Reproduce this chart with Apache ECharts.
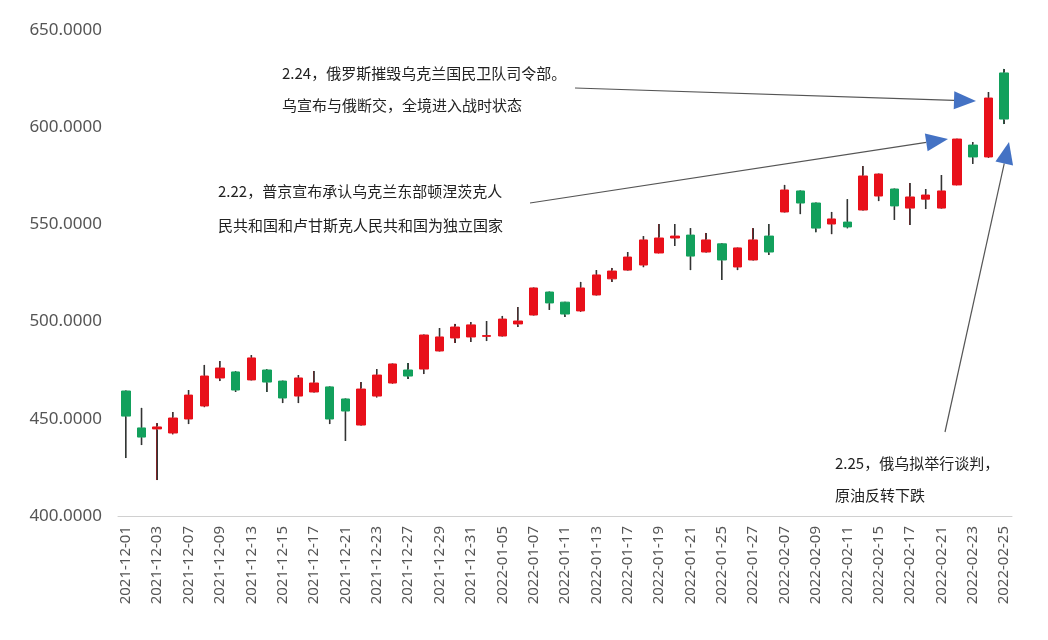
<!DOCTYPE html>
<html>
<head>
<meta charset="utf-8">
<script src="https://cdn.jsdelivr.net/npm/echarts@6/dist/echarts.min.js"></script>
<style>html,body{margin:0;background:#fff}#c{width:1048px;height:640px}</style>
</head>
<body>
<div id="c"></div>
<script>
var dates = [
  '2021-12-01','2021-12-02','2021-12-03','2021-12-06','2021-12-07','2021-12-08','2021-12-09','2021-12-10',
  '2021-12-13','2021-12-14','2021-12-15','2021-12-16','2021-12-17','2021-12-20','2021-12-21','2021-12-22',
  '2021-12-23','2021-12-24','2021-12-27','2021-12-28','2021-12-29','2021-12-30','2021-12-31','2022-01-04',
  '2022-01-05','2022-01-06','2022-01-07','2022-01-10','2022-01-11','2022-01-12','2022-01-13','2022-01-14',
  '2022-01-17','2022-01-18','2022-01-19','2022-01-20','2022-01-21','2022-01-24','2022-01-25','2022-01-26',
  '2022-01-27','2022-01-28','2022-02-07','2022-02-08','2022-02-09','2022-02-10','2022-02-11','2022-02-14',
  '2022-02-15','2022-02-16','2022-02-17','2022-02-18','2022-02-21','2022-02-22','2022-02-23','2022-02-24',
  '2022-02-25'
];
// open, close, low, high
var opens  = [464.3,445.3,444.8,442.7,449.9,456.6,471.0,474.1,470.0,475.1,469.4,461.7,463.8,466.4,460.2,446.8,
  461.7,468.4,475.1,475.6,484.9,491.6,492.1,492.4,492.6,498.8,503.4,515.2,510.0,505.5,513.7,522.0,
  526.5,529.1,535.3,543.0,544.5,535.8,540.0,528.1,531.7,544.0,556.4,567.2,561.0,550.2,551.2,557.4,
  564.6,568.2,558.4,563.0,558.4,570.3,590.8,584.7,627.9];
var closes = [451.4,440.6,445.8,450.4,462.2,472.0,476.1,464.8,481.3,468.9,460.7,471.0,468.4,449.9,454.0,465.3,
  472.5,478.2,472.0,493.1,492.1,497.2,498.3,492.8,501.3,500.3,517.3,509.6,503.9,517.3,524.0,526.0,
  533.2,542.0,543.0,544.0,533.7,542.0,531.7,537.9,542.0,535.8,567.7,561.0,548.1,552.8,548.7,574.9,
  575.9,559.5,564.1,565.1,567.2,593.9,584.7,615.0,604.2];
var lows   = [429.8,436.5,418.5,442.0,447.3,456.0,469.4,463.8,470.0,463.8,458.1,458.1,463.8,447.3,438.6,446.8,
  461.0,468.0,470.5,473.0,484.9,489.0,489.5,490.0,492.6,497.2,503.4,506.0,502.4,505.0,513.7,520.4,
  526.5,528.0,535.0,538.9,526.5,535.8,521.4,526.5,531.7,534.3,556.4,555.3,546.0,545.0,548.0,557.4,
  562.0,552.3,549.7,557.9,558.4,570.0,581.1,584.2,601.6];
var highs  = [464.3,455.6,447.8,453.5,464.8,477.7,479.7,474.6,482.8,475.6,469.4,472.5,474.6,466.4,460.2,468.9,
  475.6,478.2,478.7,493.1,496.7,498.8,499.8,500.3,502.9,507.5,517.3,515.2,510.0,520.4,526.5,527.6,
  535.8,544.0,550.2,550.2,548.1,545.6,540.0,538.0,548.1,550.2,570.3,567.2,561.0,556.4,563.0,580.0,
  575.9,568.2,571.3,568.2,575.4,594.0,592.4,618.1,630.0];
var yTicks = [400, 450, 500, 550, 600, 650];

var kdata = [];
for (var i = 0; i < dates.length; i++) {
  kdata.push([opens[i], closes[i], lows[i], highs[i]]);
}

var chart = echarts.init(document.getElementById('c'));
var txt = {fill: '#222', font: '15px "Noto Sans CJK SC", sans-serif'};
var blue = '#4472c4';

function arrow(x1, y1, x2, y2) {
  var a = Math.atan2(y2 - y1, x2 - x1), L = 22, W = 9;
  var bx = x2 - L * Math.cos(a), by = y2 - L * Math.sin(a);
  return [
    {type: 'line', shape: {x1: x1, y1: y1, x2: bx, y2: by}, style: {stroke: '#555', lineWidth: 1.2}},
    {type: 'polygon', shape: {points: [[x2, y2],
      [bx + W * Math.sin(a), by - W * Math.cos(a)],
      [bx - W * Math.sin(a), by + W * Math.cos(a)]]}, style: {fill: blue}}
  ];
}

var graphics = [
  {type: 'text', left: 282, top: 66, style: Object.assign({text: '2.24，俄罗斯摧毁乌克兰国民卫队司令部。'}, txt)},
  {type: 'text', left: 282, top: 98, style: Object.assign({text: '乌宣布与俄断交，全境进入战时状态'}, txt)},
  {type: 'text', left: 218, top: 184, style: Object.assign({text: '2.22，普京宣布承认乌克兰东部顿涅茨克人'}, txt)},
  {type: 'text', left: 218, top: 218, style: Object.assign({text: '民共和国和卢甘斯克人民共和国为独立国家'}, txt)},
  {type: 'text', left: 835, top: 456, style: Object.assign({text: '2.25，俄乌拟举行谈判，'}, txt)},
  {type: 'text', left: 835, top: 488, style: Object.assign({text: '原油反转下跌'}, txt)}
].concat(arrow(575, 88, 976, 101), arrow(530, 203, 948, 139), arrow(945, 432, 1009, 142));

chart.setOption({
  animation: false,
  grid: {left: 118, right: 36, top: 30, bottom: 124},
  xAxis: {
    type: 'category',
    data: dates,
    boundaryGap: true,
    axisLine: {lineStyle: {color: '#d0d0d0'}},
    axisTick: {alignWithLabel: true, interval: 1, lineStyle: {color: '#d0d0d0'}},
    axisLabel: {interval: 1, rotate: 90, color: '#555', fontSize: 15, margin: 10,
      fontFamily: 'Noto Sans'}
  },
  yAxis: {
    type: 'value',
    min: yTicks[0],
    max: yTicks[yTicks.length - 1],
    interval: 50,
    splitLine: {show: false},
    axisLine: {show: false},
    axisTick: {show: false},
    axisLabel: {color: '#555', fontSize: 17, margin: 16, fontFamily: 'Noto Sans',
      formatter: function (v) { return v.toFixed(4); }}
  },
  series: [{
    type: 'candlestick',
    data: kdata,
    barWidth: 9,
    itemStyle: {
      color: '#e8101a', color0: '#12a05c',
      borderColor: '#e8101a', borderColor0: '#12a05c',
      borderColorDoji: '#e8101a',
      borderWidth: 1
    }
  }, {
    // dark wicks drawn over the candle's own wicks, outside the body
    type: 'custom',
    data: kdata.map(function (d, i) { return [i, d[2], d[3], Math.max(d[0], d[1]), Math.min(d[0], d[1])]; }),
    renderItem: function (params, api) {
      var x = api.coord([api.value(0), 0])[0];
      var lo = api.coord([api.value(0), api.value(1)])[1];
      var hi = api.coord([api.value(0), api.value(2)])[1];
      var top = api.coord([api.value(0), api.value(3)])[1];
      var bot = api.coord([api.value(0), api.value(4)])[1];
      return {type: 'group', children: [
        {type: 'line', shape: {x1: x, y1: hi, x2: x, y2: top - 0.5}, style: {stroke: '#333', lineWidth: 1.6}},
        {type: 'line', shape: {x1: x, y1: bot + 0.5, x2: x, y2: lo}, style: {stroke: '#333', lineWidth: 1.6}}
      ]};
    },
    z: 5
  }],
  graphic: graphics
});
</script>
</body>
</html>
